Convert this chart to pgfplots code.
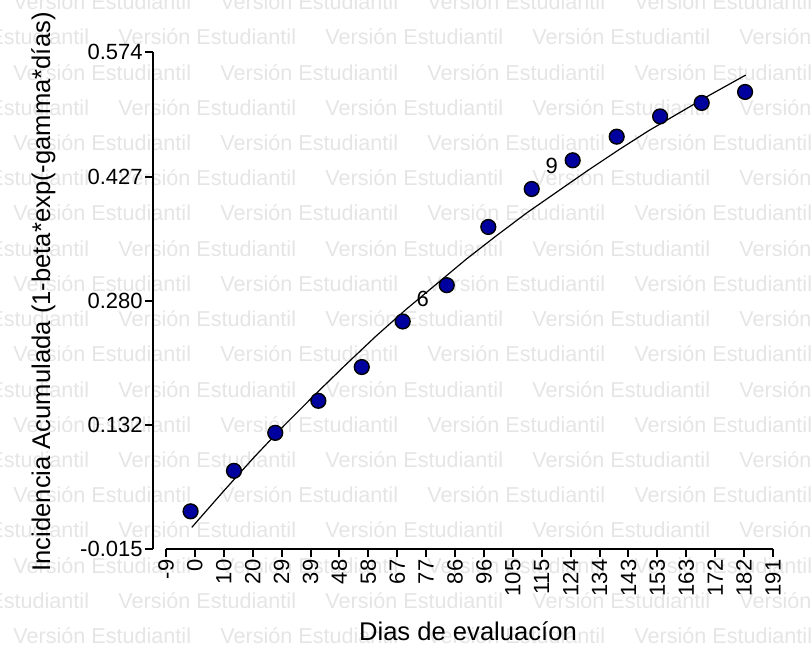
\documentclass[border=0pt]{standalone}
\usepackage{fontspec}
\setmainfont{Liberation Sans}
\usepackage{pgfplots}
\pgfplotsset{compat=1.18}
\definecolor{wmgray}{RGB}{229,229,229}
\definecolor{markblue}{RGB}{0,0,158}
\begin{document}
\begin{tikzpicture}
\path[use as bounding box] (0pt,0pt) rectangle (406pt,324pt);
% watermark
\tikzset{wm/.style={text=wmgray, inner sep=0pt, anchor=base west, font=\fontsize{10.8}{12}\selectfont}}
\foreach \r in {0,...,9} {
  \foreach \c in {13,220,427,634} {
    \node[wm] at ({\c*0.5pt}, {(648-1.8-70.4*\r-8)*0.5pt}) {Versión Estudiantil};
  }
}
\foreach \r in {0,...,8} {
  \foreach \c in {-89,118,325,532,739} {
    \node[wm] at ({\c*0.5pt}, {(648-37-70.4*\r-8)*0.5pt}) {Versión Estudiantil};
  }
}
\begin{axis}[
  at={(76.5pt,49.35pt)}, anchor=south west,
  scale only axis, width=310pt, height=248.5pt,
  xmin=-13.28, xmax=191, ymin=-0.015, ymax=0.574,
  enlargelimits=false, clip=false,
  axis lines=left, axis line style={-, line width=1pt},
  separate axis lines, x axis line style={draw=none},
  tick align=outside, tick pos=left,
  major tick length=4pt,
  every tick/.style={black, line width=1pt},
  xtick={-9,0.524,10.048,19.571,29.095,38.619,48.143,57.667,67.190,76.714,86.238,95.762,105.286,114.810,124.333,133.857,143.381,152.905,162.429,171.952,181.476,191},
  xticklabels={-9,0,10,20,29,39,48,58,67,77,86,96,105,115,124,134,143,153,163,172,182,191},
  ytick={-0.015,0.13225,0.2795,0.42675,0.574},
  yticklabels={-0.015,0.132,0.280,0.427,0.574},
  xticklabel style={rotate=90, anchor=east, inner sep=1pt, font=\fontsize{11}{13}\selectfont},
  yticklabel style={anchor=east, inner sep=1pt, font=\fontsize{11}{13}\selectfont},
  xlabel={Dias de evaluacíon},
  ylabel={Incidencia Acumulada (1-beta*exp(-gamma*días)},
  xlabel style={at={(axis description cs:0.508,-0.1825)}, anchor=base, font=\fontsize{12.8}{15}\selectfont},
  ylabel style={at={(axis description cs:-0.166,0.518)}, anchor=base, rotate=0, font=\fontsize{12.8}{15}\selectfont},
]
\draw[line width=1pt] (axis cs:-9,-0.015) -- (axis cs:191,-0.015);
\addplot[only marks, mark=*, mark size=3.7pt, mark options={fill=markblue, draw=black, line width=0.7pt}] coordinates {
(-0.9,0.030) (13.4,0.078) (27.0,0.123) (41.2,0.161) (55.5,0.201) (69.0,0.255) (83.5,0.298)
(97.2,0.367) (111.5,0.412) (125.0,0.446) (139.5,0.474) (153.8,0.498) (167.5,0.514) (181.8,0.527)
};
\addplot[black, line width=0.6pt, no marks] coordinates {
(-0.5,0.011) (10,0.054) (20,0.094) (30,0.132) (40,0.168) (50,0.203) (60,0.237) (70,0.269)
(80,0.299) (90,0.329) (100,0.357) (110,0.384) (120,0.409) (130,0.434) (140,0.458)
(150,0.481) (160,0.502) (170,0.523) (182,0.547)
};
\node[font=\fontsize{11}{13}\selectfont, inner sep=0pt] at (axis cs:75.6,0.2813) {6};
\node[font=\fontsize{11}{13}\selectfont, inner sep=0pt] at (axis cs:118.1,0.4396) {9};
\end{axis}
\end{tikzpicture}
\end{document}
